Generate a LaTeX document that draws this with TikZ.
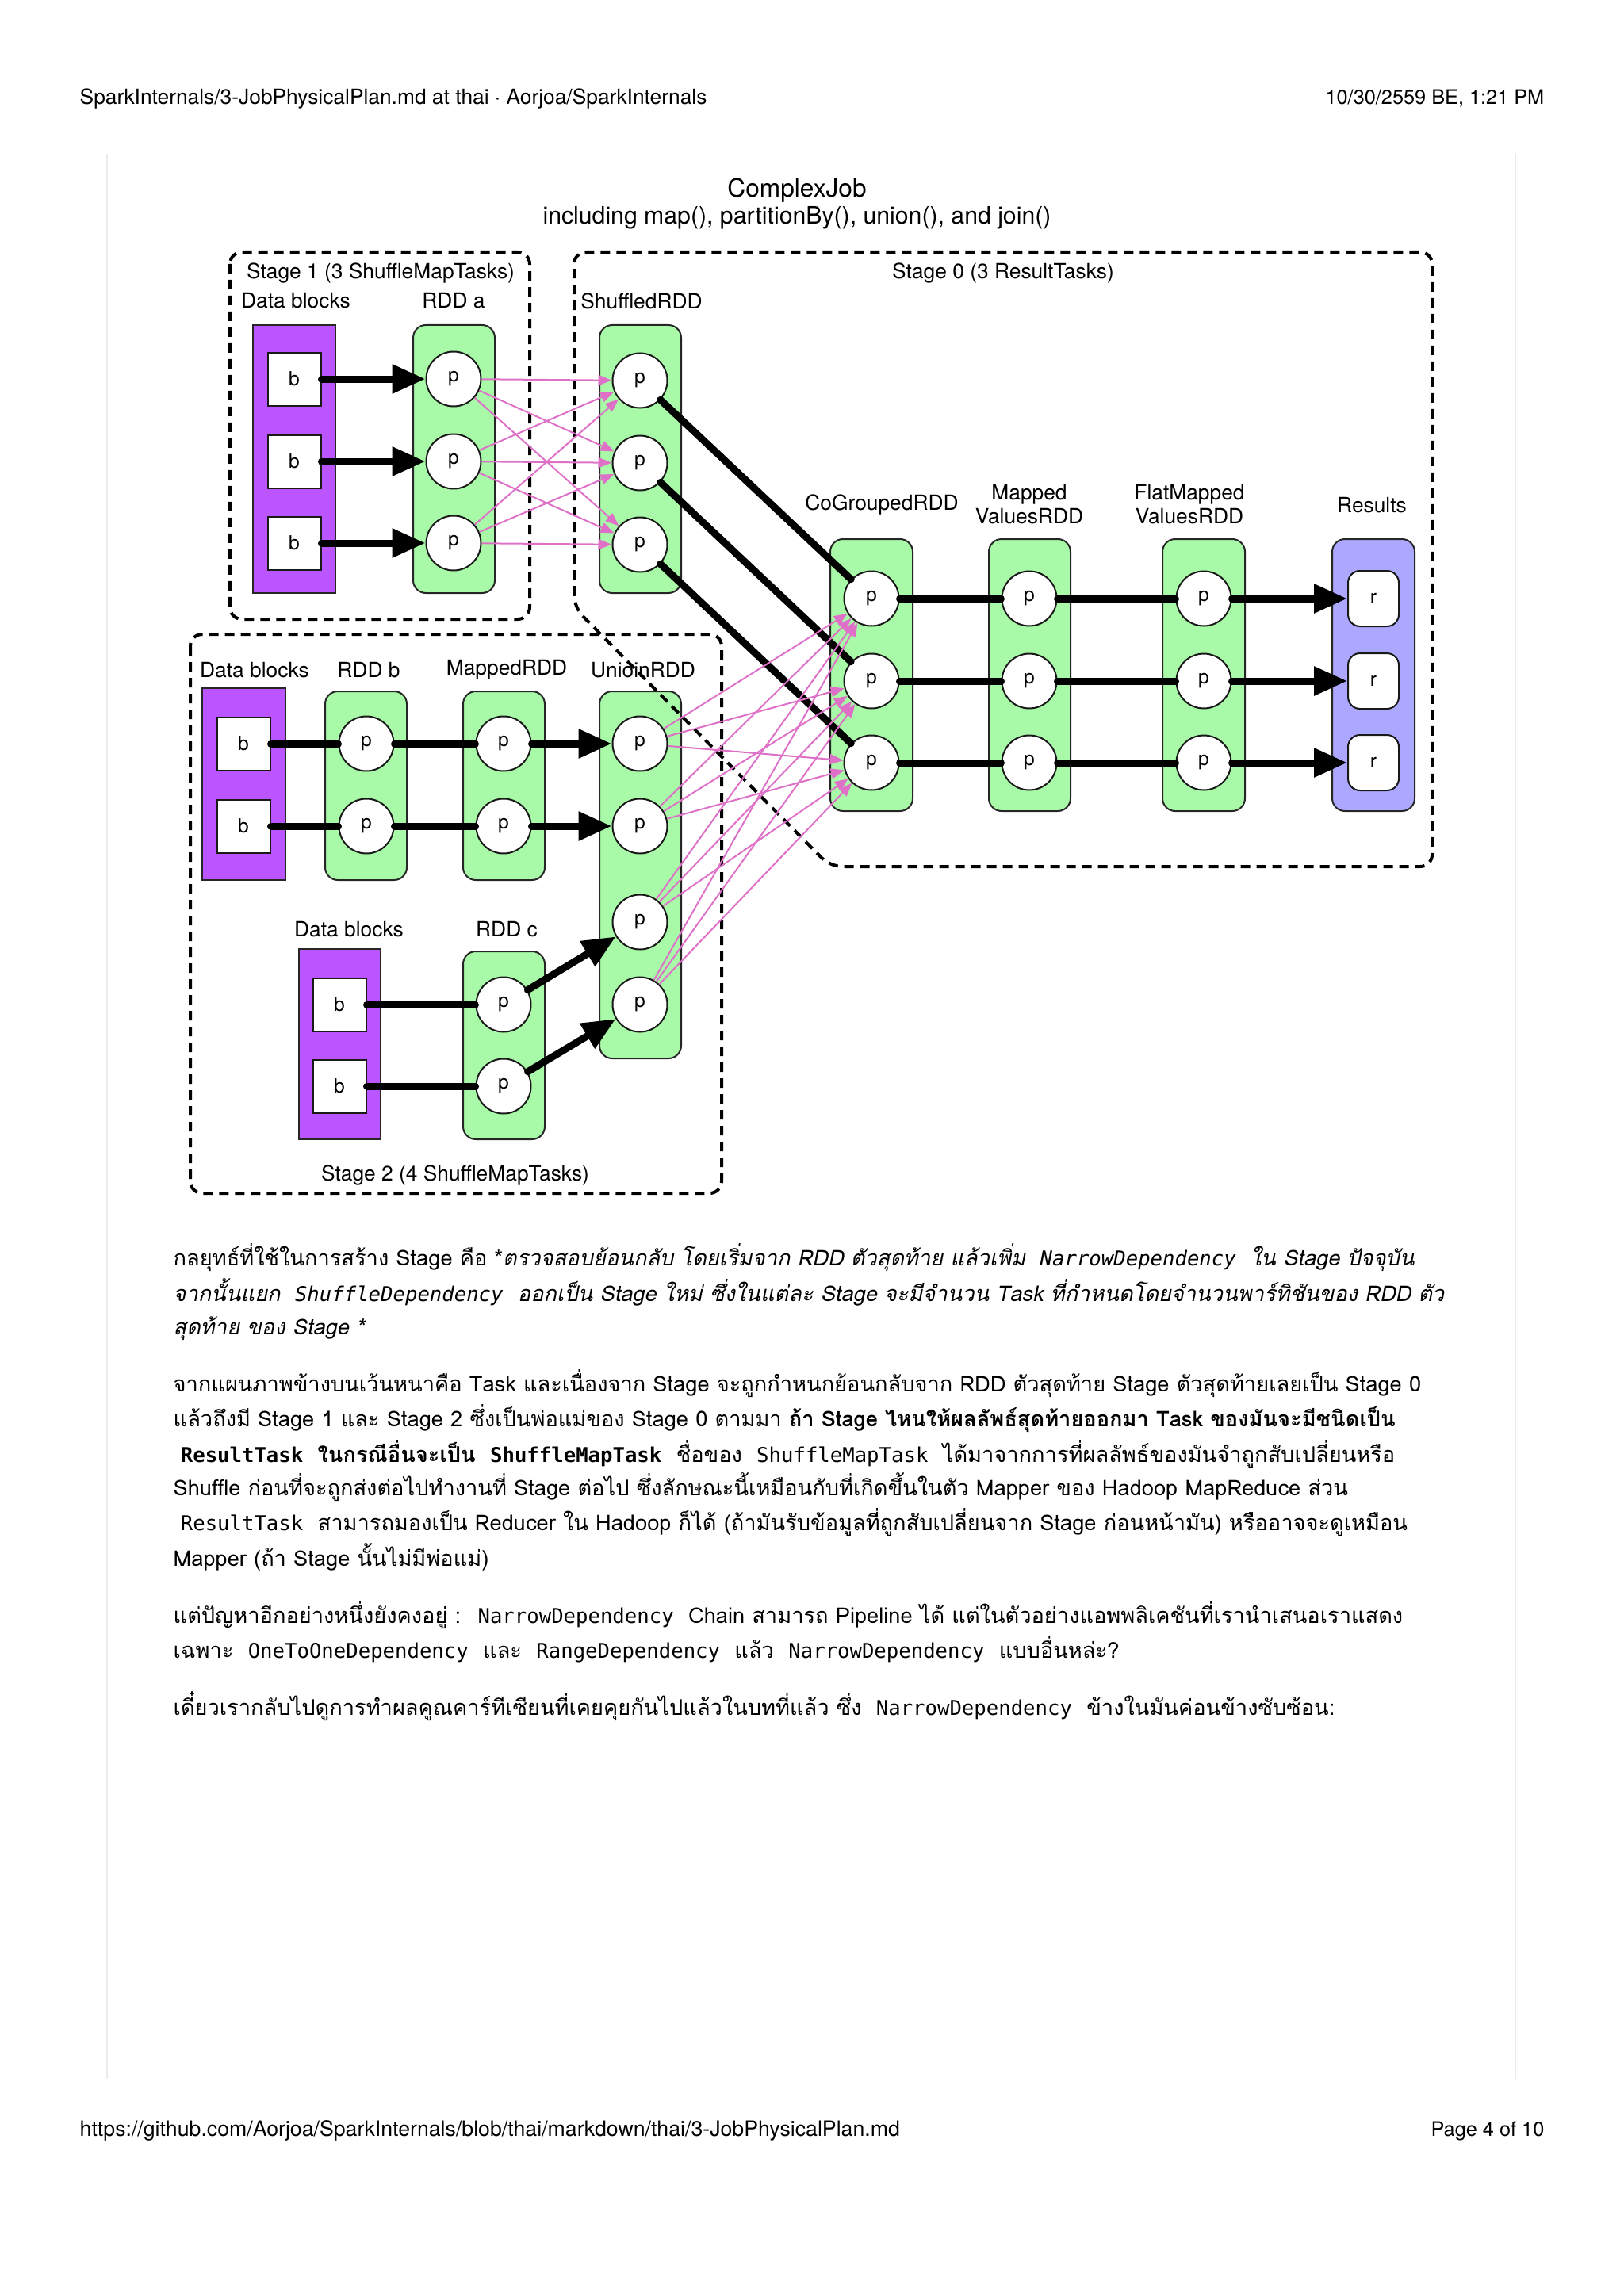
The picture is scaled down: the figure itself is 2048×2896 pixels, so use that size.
\documentclass[tikz,border=0pt]{standalone}
\usepackage{fontspec}
\setmainfont{TeX Gyre Heros}
\setmonofont{DejaVu Sans Mono}
\newfontfamily\thaifont[Script=Thai,AutoFakeSlant=0.2]{Loma}
\usepackage{xcolor}
\usetikzlibrary{arrows.meta,shapes.geometric}

\definecolor{rddgreen}{RGB}{168,250,168}
\definecolor{blkpurple}{RGB}{187,85,255}
\definecolor{respurple}{RGB}{172,168,255}
\definecolor{shufpink}{RGB}{222,112,200}

\newcommand{\code}[1]{{\ttfamily\fontsize{7.3}{9}\selectfont #1}}

\begin{document}
\begin{tikzpicture}[x=0.1mm,y=-0.1mm,
    lbl/.style={inner sep=0pt, font=\fontsize{7.5}{8.6}\selectfont, align=center},
    hdr/.style={inner sep=0pt, font=\fontsize{7.5}{9}\selectfont},
    body/.style={anchor=base west, inner sep=0pt, font=\thaifont\fontsize{7.75}{10}\selectfont},
    rddbox/.style={draw=black!85, fill=rddgreen, line width=0.2mm, rounded corners=1.6mm},
    blkbox/.style={draw=black!85, fill=blkpurple, line width=0.2mm},
    resbox/.style={draw=black!85, fill=respurple, line width=0.2mm, rounded corners=1.6mm},
    stagebox/.style={line width=0.4mm, dash pattern=on 1.2mm off 0.8mm, rounded corners=1.5mm},
    part/.style={circle, draw=black!90, fill=white, line width=0.2mm, minimum size=6.9mm, inner sep=0pt, font=\fontsize{7}{8}\selectfont},
    blk/.style={rectangle, draw=black!90, fill=white, line width=0.2mm, minimum size=6.7mm, inner sep=0pt, font=\fontsize{7}{8}\selectfont},
    res/.style={rectangle, draw=black!90, fill=white, line width=0.2mm, rounded corners=1.5mm, minimum width=6.4mm, minimum height=7mm, inner sep=0pt, font=\fontsize{7}{8}\selectfont},
    narrow/.style={line width=0.9mm, line cap=round},
    narrowarr/.style={narrow, -{Triangle[length=4.2mm,width=3.5mm]}},
    shuf/.style={draw=shufpink, line width=0.2mm, -{Triangle[length=1.7mm,width=1.3mm]}}]
  \useasboundingbox (0,0) rectangle (2048,2896);

  % page frame
  \node[hdr, anchor=base west] (hdleft) at (100,132) {SparkInternals/3-JobPhysicalPlan.md at thai · Aorjoa/SparkInternals};
  \node[hdr, anchor=base east, font=\fontsize{7.2}{9}\selectfont] (hdright) at (1948,132) {10/30/2559 BE, 1:21 PM};
  \node[hdr, anchor=base west, font=\fontsize{7.6}{9}\selectfont] (ftleft) at (100,2694) {https://github.com/Aorjoa/SparkInternals/blob/thai/markdown/thai/3-JobPhysicalPlan.md};
  \node[hdr, anchor=base east, font=\fontsize{7.2}{9}\selectfont] (ftright) at (1948,2694) {Page 4 of 10};
  \draw[black!8, line width=0.2mm] (135,194) -- (135,2622);
  \draw[black!8, line width=0.2mm] (1911,194) -- (1911,2622);

  % title
  \node[lbl, font=\fontsize{9}{10}\selectfont] (title) at (1005,240) {ComplexJob};
  \node[lbl, font=\fontsize{8.6}{10}\selectfont] (subtitle) at (1005,275) {including map(), partitionBy(), union(), and join()};

  % containers
  \draw[blkbox] (319,410) rectangle (423,748);
  \draw[rddbox] (521,410) rectangle (624,748);
  \draw[rddbox] (756,410) rectangle (859,748);
  \draw[blkbox] (255,868) rectangle (360,1110);
  \draw[rddbox] (410,872) rectangle (513,1110);
  \draw[rddbox] (584,872) rectangle (687,1110);
  \draw[rddbox] (756,872) rectangle (859,1335);
  \draw[blkbox] (377,1197) rectangle (480,1437);
  \draw[rddbox] (584,1200) rectangle (687,1437);
  \draw[rddbox] (1047,680) rectangle (1151,1023);
  \draw[rddbox] (1247,680) rectangle (1350,1023);
  \draw[rddbox] (1466,680) rectangle (1570,1023);
  \draw[resbox] (1680,680) rectangle (1784,1023);

  % stages
  \draw[stagebox] (290,318) rectangle (668,781);
  \draw[stagebox] (240,800) rectangle (910,1505);
  \draw[stagebox] (724,766) -- (724,318) -- (1806,318) -- (1806,1093) -- (1047,1093) -- cycle;

  % labels
  \node[lbl] (st1) at (480,345) {Stage 1 (3 ShuffleMapTasks)};
  \node[lbl] (st0) at (1265,345) {Stage 0 (3 ResultTasks)};
  \node[lbl] (st2) at (574,1483) {Stage 2 (4 ShuffleMapTasks)};
  \node[lbl] (lblblka) at (373,379) {Data blocks};
  \node[lbl] (lbla) at (572,379) {RDD a};
  \node[lbl] (lbls) at (809,380) {ShuffledRDD};
  \node[lbl] (lblblkb) at (321,845) {Data blocks};
  \node[lbl] (lblb) at (465,845) {RDD b};
  \node[lbl] (lblm) at (639,845) {MappedRDD};
  \node[lbl] (lblu) at (811,845) {UnioinRDD};
  \node[lbl] (lblblkc) at (440,1172) {Data blocks};
  \node[lbl] (lblc) at (639,1172) {RDD c};
  \node[lbl] (lblcg) at (1112,637) {CoGroupedRDD};
  \node[lbl] (lblmv) at (1298,636) {Mapped\\ValuesRDD};
  \node[lbl] (lblfm) at (1500,636) {FlatMapped\\ValuesRDD};
  \node[lbl] (lblr) at (1730,637) {Results};

  % stage 1
  \foreach \i/\y in {1/478,2/582,3/685} {
    \node[blk] (blka\i) at (371,\y) {b};
    \node[part] (a\i) at (572,\y) {p};
  }
  \foreach \i/\y in {1/480,2/584,3/687}
    \node[part] (s\i) at (807,\y) {p};

  % stage 2
  \foreach \i/\y in {1/938,2/1042} {
    \node[blk] (blkb\i) at (307,\y) {b};
    \node[part] (b\i) at (462,\y) {p};
    \node[part] (m\i) at (635,\y) {p};
  }
  \foreach \i/\y in {1/938,2/1042,3/1163,4/1267}
    \node[part] (u\i) at (807,\y) {p};
  \foreach \i/\y in {1/1267,2/1370} {
    \node[blk] (blkc\i) at (428,\y) {b};
    \node[part] (rc\i) at (635,\y) {p};
  }

  % stage 0
  \foreach \i/\y in {1/755,2/859,3/962} {
    \node[part] (cg\i) at (1099,\y) {p};
    \node[part] (mv\i) at (1298,\y) {p};
    \node[part] (fm\i) at (1518,\y) {p};
    \node[res] (r\i) at (1732,\y) {r};
  }

  % dependencies
  \foreach \i in {1,2,3} {
    \draw[narrowarr] (blka\i) -- (a\i);
    \foreach \j in {1,2,3}
      \draw[shuf] (a\i) -- (s\j);
    \draw[narrow] (s\i) -- (cg\i);
    \draw[narrow] (cg\i) -- (mv\i);
    \draw[narrow] (mv\i) -- (fm\i);
    \draw[narrowarr] (fm\i) -- (r\i);
  }
  \foreach \i in {1,2} {
    \draw[narrow] (blkb\i) -- (b\i);
    \draw[narrow] (b\i) -- (m\i);
    \draw[narrowarr] (m\i) -- (u\i);
    \draw[narrow] (blkc\i) -- (rc\i);
  }
  \draw[narrowarr] (rc1) -- (u3);
  \draw[narrowarr] (rc2) -- (u4);
  \foreach \i in {1,...,4}
    \foreach \j in {1,2,3}
      \draw[shuf] (u\i) -- (cg\j);

  % text below
  \node[body] (p1a) at (218,1596) {กลยุทธ์ที่ใช้ในการสร้าง Stage คือ *\itshape ตรวจสอบย้อนกลับ โดยเริ่มจาก RDD ตัวสุดท้าย แล้วเพิ่ม ~\code{NarrowDependency}~ ใน Stage ปัจจุบัน};
  \node[body] (p1b) at (218,1641) {\itshape จากนั้นแยก ~\code{ShuffleDependency}~ ออกเป็น Stage ใหม่ ซึ่งในแต่ละ Stage จะมีจำนวน Task ที่กำหนดโดยจำนวนพาร์ทิชันของ RDD ตัว};
  \node[body] (p1c) at (218,1683) {\itshape สุดท้าย ของ Stage *};
  \node[body] (p2a) at (218,1755) {จากแผนภาพข้างบนเว้นหนาคือ Task และเนื่องจาก Stage จะถูกกำหนกย้อนกลับจาก RDD ตัวสุดท้าย Stage ตัวสุดท้ายเลยเป็น Stage 0};
  \node[body] (p2b) at (218,1799) {แล้วถึงมี Stage 1 และ Stage 2 ซึ่งเป็นพ่อแม่ของ Stage 0 ตามมา \textbf{ถ้า Stage ไหนให้ผลลัพธ์สุดท้ายออกมา Task ของมันจะมีชนิดเป็น}};
  \node[body] (p2c) at (218,1844) {\textbf{~\code{ResultTask}~ ในกรณีอื่นจะเป็น ~\code{ShuffleMapTask}}~ ชื่อของ ~\code{ShuffleMapTask}~ ได้มาจากการที่ผลลัพธ์ของมันจำถูกสับเปลี่ยนหรือ};
  \node[body] (p2d) at (218,1886) {Shuffle ก่อนที่จะถูกส่งต่อไปทำงานที่ Stage ต่อไป ซึ่งลักษณะนี้เหมือนกับที่เกิดขึ้นในตัว Mapper ของ Hadoop MapReduce ส่วน};
  \node[body] (p2e) at (218,1930) {~\code{ResultTask}~ สามารถมองเป็น Reducer ใน Hadoop ก็ได้ (ถ้ามันรับข้อมูลที่ถูกสับเปลี่ยนจาก Stage ก่อนหน้ามัน) หรืออาจจะดูเหมือน};
  \node[body] (p2f) at (218,1975) {Mapper (ถ้า Stage นั้นไม่มีพ่อแม่)};
  \node[body] (p3a) at (218,2047) {แต่ปัญหาอีกอย่างหนึ่งยังคงอยู่ : ~\code{NarrowDependency}~ Chain สามารถ Pipeline ได้ แต่ในตัวอย่างแอพพลิเคชันที่เรานำเสนอเราแสดง};
  \node[body] (p3b) at (218,2091) {เฉพาะ ~\code{OneToOneDependency}~ และ ~\code{RangeDependency}~ แล้ว ~\code{NarrowDependency}~ แบบอื่นหล่ะ?};
  \node[body] (p4a) at (218,2163) {เดี๋ยวเรากลับไปดูการทำผลคูณคาร์ทีเซียนที่เคยคุยกันไปแล้วในบทที่แล้ว ซึ่ง ~\code{NarrowDependency}~ ข้างในมันค่อนข้างซับซ้อน:};
\end{tikzpicture}
\end{document}
